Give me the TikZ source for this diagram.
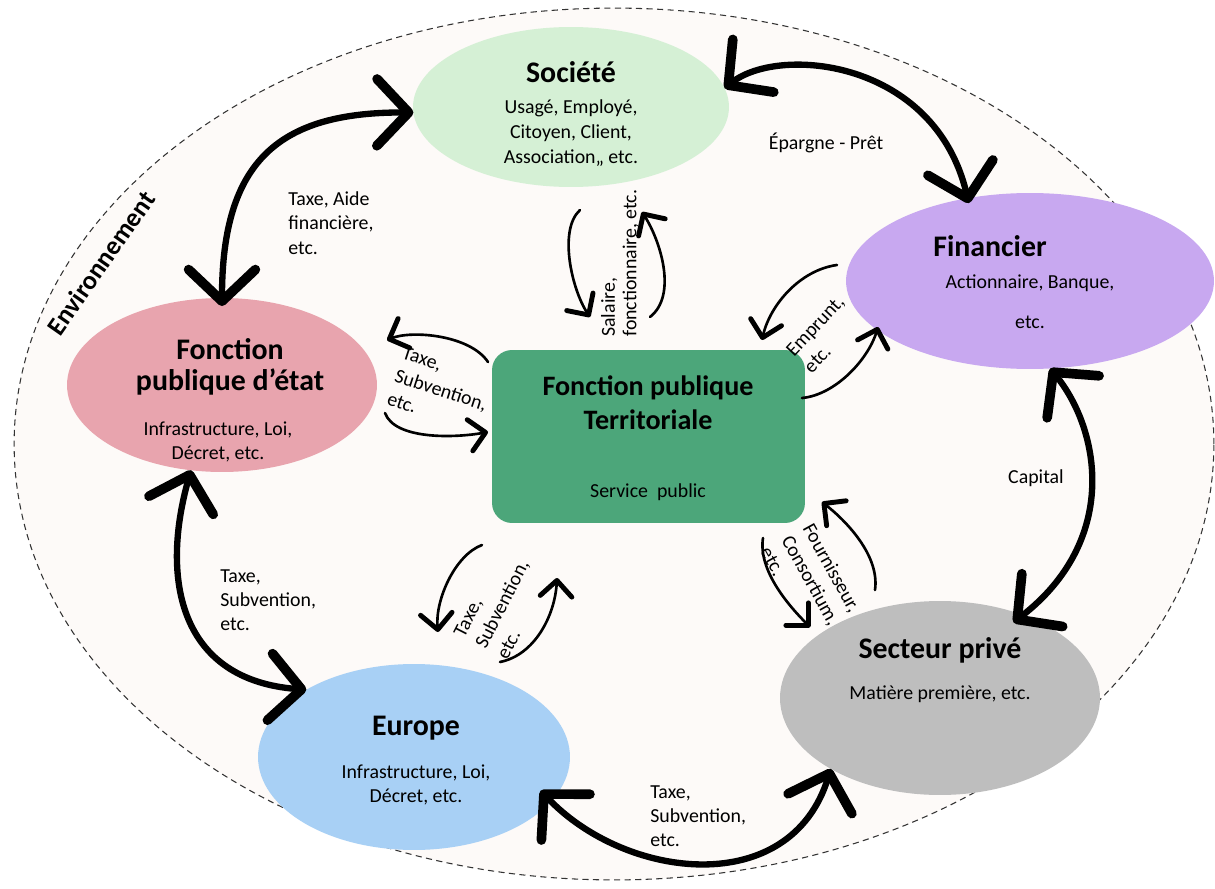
\documentclass[tikz,border=0pt]{standalone}
\usepackage{fontspec}
\setmainfont{Carlito}
\usetikzlibrary{arrows.meta,shapes.geometric,calc}
\definecolor{socC}{RGB}{213,240,213}
\definecolor{finC}{RGB}{200,168,240}
\definecolor{fpeC}{RGB}{232,164,174}
\definecolor{fptC}{RGB}{76,166,122}
\definecolor{secC}{RGB}{190,190,190}
\definecolor{eurC}{RGB}{168,208,245}
\definecolor{bgC}{RGB}{253,250,248}
\begin{document}
\begin{tikzpicture}[x=0.02cm,y=-0.02cm,
  bubble/.style={ellipse, inner sep=0pt, outer sep=0pt, draw=none},
  ttl/.style={font=\bfseries\fontsize{17}{19}\selectfont, align=center},
  txt/.style={font=\fontsize{11.3}{14.2}\selectfont, align=center},
  lbl/.style={font=\fontsize{11.3}{13.8}\selectfont, align=left, inner sep=0pt},
  bigarrow/.style={line width=3.6pt, line cap=round,
    {Straight Barb[length=18pt,width=38pt,line width=5.5pt,round]}-{Straight Barb[length=18pt,width=38pt,line width=5.5pt,round]}},
  smallarrow/.style={line width=1.5pt, line cap=round,
    -{Straight Barb[length=9pt,width=18pt,line width=2.8pt,round]}}
]
\useasboundingbox (0,0) rectangle (1215,889);
\fill[white] (0,0) rectangle (1215,889);
\node[ellipse, draw=black!80, dash pattern=on 3.5pt off 2.5pt, line width=0.6pt, fill=bgC,
  minimum width=24cm, minimum height=17.44cm, inner sep=0pt] (env) at (614,444) {};
\node[rotate=55, font=\bfseries\fontsize{15}{18}\selectfont] (envT) at (101,263) {Environnement};

% main nodes
\node[bubble, fill=socC, minimum width=6.32cm, minimum height=3.2cm] (soc) at (571,107) {};
\node[ttl] (socT) at (571,72) {Société};
\node[txt] (socB) at (571,133) {Usagé, Employé,\\Citoyen, Client,\\Association,, etc.};

\node[bubble, fill=finC, minimum width=7.36cm, minimum height=3.52cm] (fin) at (1030,281) {};
\node[ttl] (finT) at (990,246) {Financier};
\node[txt] (finB1) at (1030,283) {Actionnaire, Banque,};
\node[txt] (finB2) at (1030,322) {etc.};

\node[bubble, fill=fpeC, minimum width=6.2cm, minimum height=3.48cm] (fpe) at (222,385) {};
\node[ttl, font=\bfseries\fontsize{17}{18}\selectfont] (fpeT) at (230,367) {Fonction\\publique d’état};
\node[txt, font=\fontsize{11.3}{13.6}\selectfont] (fpeB) at (218,442) {Infrastructure, Loi,\\Décret, etc.};

\node[fill=fptC, rounded corners=0.4cm, minimum width=6.26cm, minimum height=3.46cm, inner sep=0pt] (fpt) at (648.5,436.5) {};
\node[ttl, font=\bfseries\fontsize{16}{19.3}\selectfont] (fptT) at (648,403) {Fonction publique\\Territoriale};
\node[txt] (fptB) at (648,492) {Service\ \ public};

\node[bubble, fill=secC, minimum width=6.4cm, minimum height=3.88cm] (sec) at (940,698) {};
\node[ttl] (secT) at (940,650) {Secteur privé};
\node[txt] (secB) at (940,694) {Matière première, etc.};

\node[bubble, fill=eurC, minimum width=6.24cm, minimum height=3.72cm] (eur) at (414,757) {};
\node[ttl] (eurT) at (416,728) {Europe};
\node[txt, font=\fontsize{11.3}{13.6}\selectfont] (eurB) at (416,785) {Infrastructure, Loi,\\Décret, etc.};

% labels
\node[lbl, anchor=west] (l1) at (288,223) {Taxe, Aide\\financière,\\etc.};
\node[txt] (l2) at (826,143) {Épargne - Prêt};
\node[txt] (l3) at (1036,478) {Capital};
\node[lbl, anchor=west] (l4) at (220,600) {Taxe,\\Subvention,\\etc.};
\node[lbl, anchor=west] (l5) at (650,816) {Taxe,\\Subvention,\\etc.};

\node[lbl, font=\fontsize{11.3}{12.3}\selectfont, rotate=90, anchor=west] (r1) at (620,337) {Salaire,\\fonctionnaire, etc.};
\node[lbl, rotate=-18] (r2) at (441,390) {Taxe,\\Subvention,\\etc.};
\node[lbl, rotate=47] (r3) at (824,334) {Emprunt,\\etc.};
\node[lbl, rotate=-61] (r4) at (811,580) {Fournisseur,\\Consortium,\\etc.};
\node[lbl, rotate=63] (r5) at (502,604) {Taxe,\\Subvention,\\etc.};

% big arrows
\draw[bigarrow, shorten <=-0.16cm] (fpe.90) .. controls (222,160) and (280,112) .. (soc.182);
\draw[bigarrow, shorten >=-0.1cm] (soc.7) .. controls (780,45) and (935,60) .. (fin.127);
\draw[bigarrow, shorten >=-0.24cm] (fin.283) .. controls (1100,430) and (1120,540) .. (sec.45);
\draw[bigarrow, shorten <=-0.3cm] (eur.342) .. controls (625,880) and (790,900) .. (sec.213);
\draw[bigarrow] (fpe.250) .. controls (160,580) and (180,680) .. (eur.148);

% small arrows
\coordinate (sa1) at (580,210); \coordinate (sa2) at (590,317);
\draw[smallarrow] (sa1) .. controls (558,230) and (572,290) .. (sa2);
\coordinate (sb1) at (650,317); \coordinate (sb2) at (642,212);
\draw[smallarrow] (sb1) .. controls (678,295) and (660,240) .. (sb2);

\coordinate (ta1) at (488,362); \coordinate (ta2) at (387,340);
\draw[smallarrow] (ta1) .. controls (470,335) and (412,330) .. (ta2);
\coordinate (tb1) at (385,413); \coordinate (tb2) at (488,432);
\draw[smallarrow] (tb1) .. controls (395,440) and (455,438) .. (tb2);

\coordinate (ea1) at (837,265); \coordinate (ea2) at (762,340);
\draw[smallarrow] (ea1) .. controls (800,270) and (770,305) .. (ea2);
\coordinate (eb1) at (802,398); \coordinate (eb2) at (878,327);
\draw[smallarrow] (eb1) .. controls (835,395) and (868,360) .. (eb2);

\coordinate (fa1) at (875,590); \coordinate (fa2) at (822,502);
\draw[smallarrow] (fa1) .. controls (880,555) and (845,520) .. (fa2);
\coordinate (fb1) at (763,538); \coordinate (fb2) at (810,627);
\draw[smallarrow] (fb1) .. controls (758,570) and (788,605) .. (fb2);

\coordinate (ba1) at (482,545); \coordinate (ba2) at (438,632);
\draw[smallarrow] (ba1) .. controls (455,555) and (435,600) .. (ba2);
\coordinate (bb1) at (500,662); \coordinate (bb2) at (557,578);
\draw[smallarrow] (bb1) .. controls (535,655) and (555,615) .. (bb2);
\end{tikzpicture}
\end{document}
